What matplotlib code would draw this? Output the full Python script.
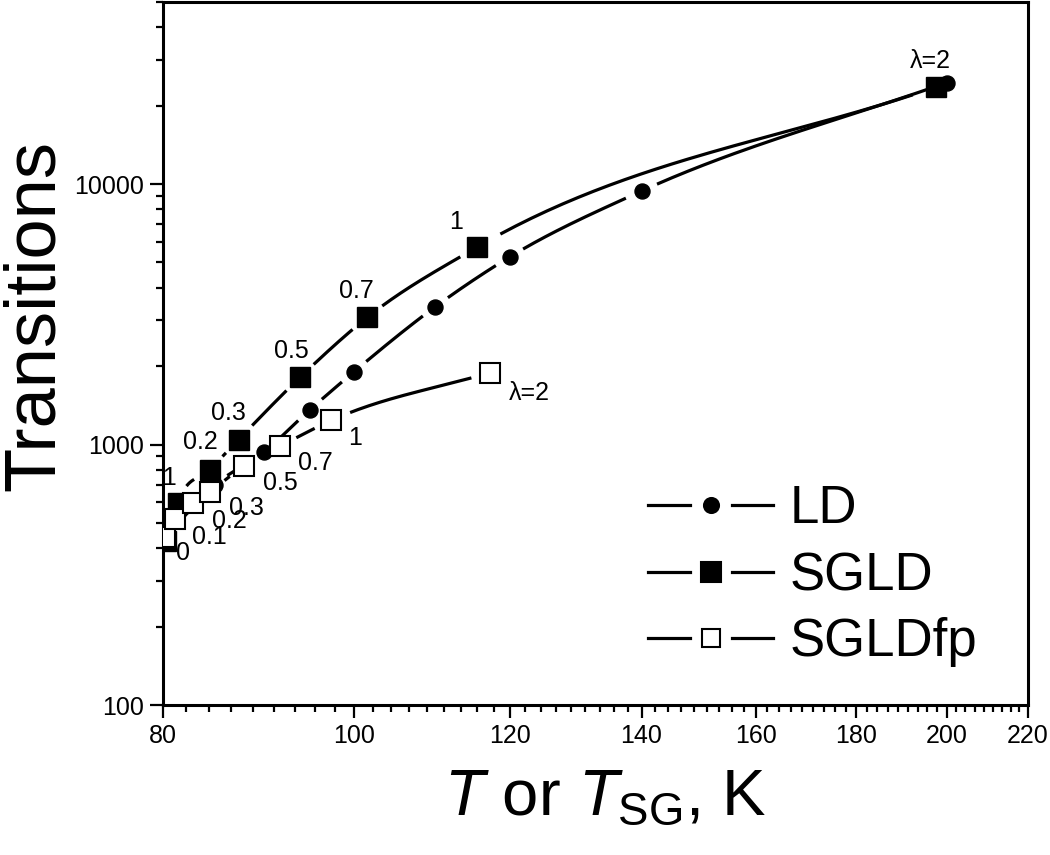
import numpy as np
import matplotlib
matplotlib.use('Agg')
import matplotlib.pyplot as plt
from matplotlib.ticker import FixedLocator, NullFormatter, LogLocator

plt.rcParams['font.family'] = ['Liberation Sans', 'DejaVu Sans']
plt.rcParams['mathtext.fontset'] = 'custom'
plt.rcParams['mathtext.rm'] = 'Liberation Sans'
plt.rcParams['mathtext.it'] = 'Liberation Sans:italic'

# values
ld_T = [80, 85, 90, 95, 100, 110, 120, 140, 200]
ld_N = [430, 700, 935, 1360, 1900, 3380, 5250, 9400, 24500]

sgld_T = [80.3, 81.4, 84.5, 87.4, 93.9, 101.6, 115.5, 197.6]
sgld_N = [425, 598, 800, 1045, 1810, 3080, 5725, 23600]
sgld_lab = ['', '0.1', '0.2', '0.3', '0.5', '0.7', '1', 'λ=2']

fp_T = [80.2, 81.1, 82.9, 84.5, 88.0, 91.7, 97.4, 117.3]
fp_N = [443, 519, 598, 659, 830, 983, 1237, 1890]
fp_lab = ['0', '0.1', '0.2', '0.3', '0.5', '0.7', '1', 'λ=2']

x_ticks = [80, 100, 120, 140, 160, 180, 200, 220]

# label offsets in pixels (above-left for SGLD, below-right for SGLDfp)
sgld_off = [(0, 0), (-18, 25), (-9, 28), (-10, 27), (-9, 26), (-11, 26), (-21, 25), (-6, 26)]
fp_off = [(18, -16), (35, -18), (36, -18), (37, -16), (36, -17), (36, -17), (24, -18), (39, -20)]


def smooth(xs, ys, n=60):
    lx = np.log10(xs)
    ly = np.log10(ys)
    m = np.gradient(ly, lx)
    ox, oy = [], []
    for i in range(len(lx) - 1):
        h = lx[i + 1] - lx[i]
        t = np.linspace(0, 1, n)
        h00 = 2 * t**3 - 3 * t**2 + 1
        h10 = t**3 - 2 * t**2 + t
        h01 = -2 * t**3 + 3 * t**2
        h11 = t**3 - t**2
        ox.append(lx[i] + t * h)
        oy.append(h00 * ly[i] + h10 * h * m[i] + h01 * ly[i + 1] + h11 * h * m[i + 1])
    return 10 ** np.concatenate(ox), 10 ** np.concatenate(oy)


def gapped(ax, xs, ys, gap):
    cx, cy = smooth(xs, ys)
    pts = ax.transData.transform(np.column_stack([cx, cy]))
    mk = ax.transData.transform(np.column_stack([xs, ys]))
    d = np.hypot(pts[:, None, 0] - mk[None, :, 0], pts[:, None, 1] - mk[None, :, 1]).min(axis=1)
    cy = np.where(d < gap, np.nan, cy)
    ax.plot(cx, cy, color='black', lw=2.3, solid_capstyle='butt', zorder=2)


fig = plt.figure(figsize=(10.5, 8.55), dpi=100)
ax = fig.add_axes([163 / 1050, 150 / 855, 865 / 1050, 703 / 855])
ax.set_xscale('log')
ax.set_yscale('log')
ax.set_xlim(80, 220)
ax.set_ylim(100, 50000)
ax.set_autoscale_on(False)

gapped(ax, ld_T, ld_N, 15)
gapped(ax, sgld_T, sgld_N, 18)
gapped(ax, fp_T, fp_N, 18)

ax.plot(ld_T, ld_N, 'o', color='black', ms=10.8, zorder=3)
ax.plot(sgld_T, sgld_N, 's', color='black', ms=14.4, zorder=4)
ax.plot(fp_T, fp_N, 's', mfc='white', mec='black', mew=1.5, ms=15, zorder=5)

for t, n, s, o in zip(sgld_T, sgld_N, sgld_lab, sgld_off):
    if s:
        ax.annotate(s, (t, n), xytext=o, textcoords='offset pixels',
                    ha='center', va='center', fontsize=18, annotation_clip=False,
                    clip_on=True, zorder=6)
for t, n, s, o in zip(fp_T, fp_N, fp_lab, fp_off):
    ax.annotate(s, (t, n), xytext=o, textcoords='offset pixels',
                ha='center', va='center', fontsize=18, annotation_clip=False,
                clip_on=True, zorder=6)

# legend drawn by hand to get the gaps around the symbols
rows = [('LD', 'o', 'black', 10.8, 0.2845),
        ('SGLD', 's', 'black', 14.4, 0.189),
        ('SGLDfp', 's', 'white', 13.5, 0.0953)]
for name, mk, fc, ms, y in rows:
    ax.plot([0.5607, 0.6092], [y, y], color='black', lw=2.3, transform=ax.transAxes)
    ax.plot([0.6578, 0.7052], [y, y], color='black', lw=2.3, transform=ax.transAxes)
    ax.plot([0.6335], [y], mk, mfc=fc, mec='black', mew=1.5, ms=ms, transform=ax.transAxes)
    ax.text(0.7249, y - 18 / 703, name, fontsize=38, va='baseline', ha='left',
            transform=ax.transAxes)

ax.xaxis.set_major_locator(FixedLocator(x_ticks))
ax.xaxis.set_minor_locator(FixedLocator([a + k * 20 / 9 for a in x_ticks[:-1] for k in range(1, 9)]))
ax.xaxis.set_major_formatter(matplotlib.ticker.FixedFormatter([str(v) for v in x_ticks]))
ax.xaxis.set_minor_formatter(NullFormatter())
ax.yaxis.set_major_locator(FixedLocator([100, 1000, 10000]))
ax.yaxis.set_major_formatter(matplotlib.ticker.FixedFormatter(['100', '1000', '10000']))
ax.yaxis.set_minor_locator(LogLocator(base=10, subs=np.arange(2, 10)))
ax.yaxis.set_minor_formatter(NullFormatter())

ax.tick_params(which='major', direction='out', length=9.5, width=1.6, labelsize=18, pad=4)
ax.tick_params(which='minor', direction='out', length=5, width=1.6)
ax.tick_params(top=False, right=False, which='both')
for sp in ax.spines.values():
    sp.set_linewidth(2.2)

fig.text(35 / 1050, 1 - 315 / 855, 'Transitions', rotation=90, ha='center', va='center',
         fontsize=52)
fig.text(605 / 1050, 1 - 815 / 855, r'$\mathit{T}$ or $\mathit{T}_{\mathrm{SG}}$, K',
         ha='center', va='baseline', fontsize=47)

fig.savefig('out.png', dpi=100)
